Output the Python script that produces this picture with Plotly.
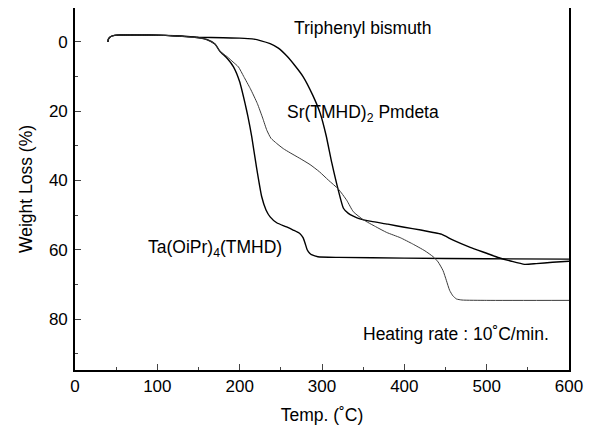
import plotly.graph_objects as go

# Triphenyl bismuth
tpb_temp = [40, 40.5, 43, 48, 55, 70, 90, 110, 130, 150, 180, 200, 215, 225, 237, 247, 257, 267, 277, 289, 298, 305, 312, 320, 326, 332, 338, 345, 360, 380, 400, 420, 435, 445, 460, 480, 500, 515, 530, 546, 560, 580, 600]
tpb_loss = [0, -0.8, -1.5, -1.9, -2.0, -2.0, -2.0, -1.9, -1.7, -1.4, -1.2, -1.1, -0.9, -0.4, 0.5, 1.8, 4.0, 6.8, 10.0, 15.5, 20.7, 27.0, 35.0, 43.0, 48.0, 49.5, 50.3, 51.0, 51.8, 52.6, 53.5, 54.3, 55.0, 55.5, 57.3, 59.3, 61.0, 62.3, 63.3, 64.2, 64.0, 63.6, 63.3]

# Ta(OiPr)4(TMHD)
ta_temp = [40, 40.5, 43, 48, 55, 70, 90, 110, 130, 150, 160, 170, 176, 185, 192.5, 200, 206.6, 210, 214.7, 220, 226.8, 232, 237, 245, 257, 265, 273, 277, 280, 282, 285, 288, 295, 320, 400, 500, 600]
ta_loss = [0, -0.8, -1.5, -1.9, -2.0, -2.0, -2.0, -1.9, -1.6, -1.2, -0.7, 0.6, 2.7, 4.8, 7.2, 11.5, 17.8, 21.5, 27.4, 35.5, 44.7, 48.5, 50.5, 52.2, 53.4, 54.3, 55.3, 56.5, 58.5, 60.0, 61.0, 61.5, 62.0, 62.2, 62.4, 62.6, 62.7]

# Sr(TMHD)2 Pmdeta
sr_temp = [40, 40.5, 43, 48, 55, 70, 90, 110, 130, 150, 160, 170, 176, 185, 192, 198.5, 205, 213, 221.5, 228, 233, 238, 245, 253, 261.3, 273, 285.5, 297, 307.8, 320, 330, 338, 350, 365, 378.6, 395, 410, 425, 435, 441, 447, 451, 455, 459, 463.4, 470, 500, 600]
sr_loss = [0, -0.8, -1.5, -1.9, -2.0, -2.0, -2.0, -1.9, -1.6, -1.2, -0.7, 0.6, 2.7, 4.3, 5.8, 7.2, 10.0, 13.5, 17.8, 22.0, 25.5, 27.8, 29.3, 30.8, 32.0, 33.6, 35.4, 37.5, 39.9, 42.5, 45.7, 49.0, 51.3, 53.3, 55.0, 56.5, 58.3, 60.3, 62.0, 63.5, 66.0, 68.8, 71.7, 73.3, 74.2, 74.5, 74.6, 74.6]

x_ticks = [0, 100, 200, 300, 400, 500, 600]
y_ticks = [0, 20, 40, 60, 80]

FONT = "Liberation Sans, Arial, sans-serif"

fig = go.Figure()
fig.add_trace(go.Scatter(x=tpb_temp, y=tpb_loss, mode="lines",
                         line=dict(color="black", width=1.4, shape="spline", smoothing=0.5)))
fig.add_trace(go.Scatter(x=ta_temp, y=ta_loss, mode="lines",
                         line=dict(color="black", width=1.4, shape="spline", smoothing=0.5)))
fig.add_trace(go.Scatter(x=sr_temp, y=sr_loss, mode="lines",
                         line=dict(color="#3a3a3a", width=1.0, shape="spline", smoothing=0.5)))

ann_font = dict(family=FONT, size=17.5, color="black")
fig.add_annotation(x=263, y=-3.9, text="Triphenyl bismuth", showarrow=False,
                   xanchor="left", yanchor="middle", font=ann_font)
fig.add_annotation(x=255, y=20.6, text="Sr(TMHD)<sub>2</sub> Pmdeta", showarrow=False,
                   xanchor="left", yanchor="middle", font=ann_font)
fig.add_annotation(x=86, y=59.6, text="Ta(OiPr)<sub>4</sub>(TMHD)", showarrow=False,
                   xanchor="left", yanchor="middle", font=ann_font)
fig.add_annotation(x=347, y=84.2, text="Heating rate : 10˚C/min.", showarrow=False,
                   xanchor="left", yanchor="middle", font=ann_font)

# page body has an 8px margin, so the figure is sized and placed to compensate
fig.update_layout(
    width=589, height=424,
    margin=dict(l=67, r=28, t=0, b=62, autoexpand=False),
    paper_bgcolor="white", plot_bgcolor="white",
    showlegend=False,
    font=dict(family=FONT, size=17, color="black"),
)
fig.update_xaxes(
    range=[0, 600], tickvals=x_ticks, ticks="inside", ticklen=6, tickwidth=1.3,
    showline=True, linecolor="black", linewidth=1.6, mirror=True, showgrid=False, zeroline=False,
    minor=dict(dtick=50, ticks="inside", ticklen=3, tickwidth=1.2, showgrid=False),
    title=dict(text="Temp. (˚C)", font=dict(size=17.5), standoff=14),
    tickfont=dict(size=17), automargin=False,
)
fig.update_yaxes(
    range=[94.7, -9.8], tickvals=y_ticks, ticks="inside", ticklen=6, tickwidth=1.3,
    showline=True, linecolor="black", linewidth=1.6, mirror=True, showgrid=False, zeroline=False,
    minor=dict(dtick=10, ticks="inside", ticklen=3, tickwidth=1.2, showgrid=False),
    title=dict(text="Weight Loss (%)", font=dict(size=17.5), standoff=12),
    tickfont=dict(size=17), automargin=False, ticklabelstandoff=2,
)

fig.write_html("out.html")
